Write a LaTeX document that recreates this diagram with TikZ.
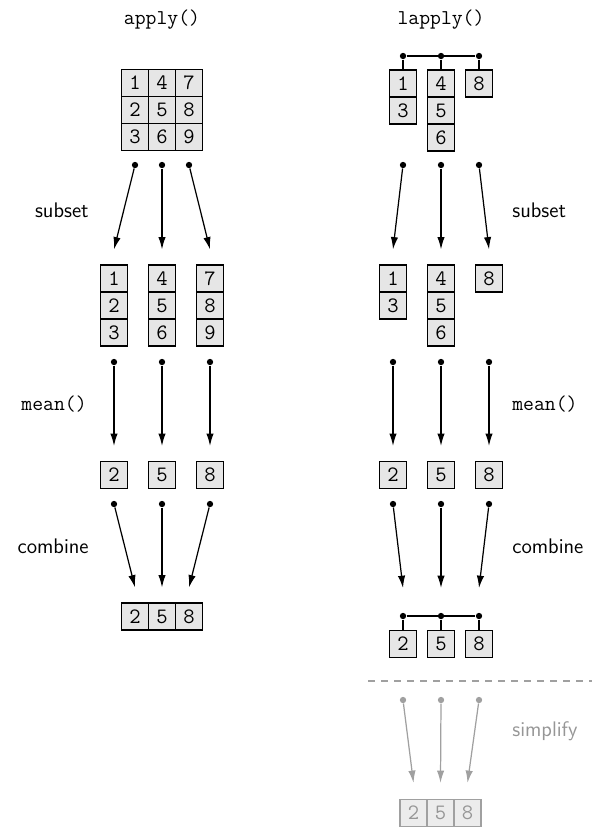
\documentclass[tikz,border=0pt]{standalone}
\usepackage{xcolor}
\definecolor{cellfill}{RGB}{230,230,230}
\definecolor{fadeline}{RGB}{160,160,160}
\definecolor{fadetext}{RGB}{150,150,150}
\definecolor{fadefill}{RGB}{236,236,236}
\usetikzlibrary{arrows.meta}

\begin{document}
\begin{tikzpicture}[x=0.2mm,y=-0.2mm,
cell/.style={draw=black,line width=0.7pt,fill=cellfill,minimum size=5.4mm,inner sep=0pt,font=\fontsize{12.5}{14}\selectfont\ttfamily},
fcell/.style={cell,draw=fadeline,fill=fadefill,text=fadetext},
dot/.style={circle,fill=black,inner sep=0pt,minimum size=3.6pt},
fdot/.style={dot,fill=fadeline},
flow/.style={-{Latex[length=7pt,width=4.2pt]},line width=0.7pt},
fflow/.style={flow,draw=fadeline},
lbar/.style={line width=0.7pt},
cut/.style={draw=fadeline,line width=0.7pt,dash pattern=on 4pt off 3.4pt},
code/.style={font=\fontsize{12}{14}\selectfont\ttfamily,inner sep=0pt},
lbl/.style={font=\fontsize{12}{14}\selectfont\sffamily,inner sep=0pt}]
\useasboundingbox (0,0) rectangle (592,828);
% titles
\node[code] (tapply) at (162,20) {apply()};
\node[code] (tlapply) at (441,20) {lapply()};
% apply(): matrix
\node[cell] (g1) at (135,83) {1}; \node[cell] (g4) at (162,83) {4}; \node[cell] (g7) at (189,83) {7};
\node[cell] (g2) at (135,110) {2}; \node[cell] (g5) at (162,110) {5}; \node[cell] (g8) at (189,110) {8};
\node[cell] (g3) at (135,137) {3}; \node[cell] (g6) at (162,137) {6}; \node[cell] (g9) at (189,137) {9};
% apply(): columns
\node[cell] (c1) at (114,278.5) {1}; \node[cell] (c2) at (114,305.5) {2}; \node[cell] (c3) at (114,332.5) {3};
\node[cell] (c4) at (162,278.5) {4}; \node[cell] (c5) at (162,305.5) {5}; \node[cell] (c6) at (162,332.5) {6};
\node[cell] (c7) at (210,278.5) {7}; \node[cell] (c8) at (210,305.5) {8}; \node[cell] (c9) at (210,332.5) {9};
% apply(): means and result
\node[cell] (mu2) at (114,475) {2}; \node[cell] (mu5) at (162,475) {5}; \node[cell] (mu8) at (210,475) {8};
\node[cell] (r2) at (135,616.5) {2}; \node[cell] (r5) at (162,616.5) {5}; \node[cell] (r8) at (189,616.5) {8};
% apply(): arrows
\node[dot] (ds1) at (135,165) {}; \node[dot] (ds2) at (162,165) {}; \node[dot] (ds3) at (189,165) {};
\draw[flow] (ds1)--([yshift=3mm]c1.north);
\draw[flow] (ds2)--([yshift=3mm]c4.north);
\draw[flow] (ds3)--([yshift=3mm]c7.north);
\node[dot] (dm1) at (114,362) {}; \node[dot] (dm2) at (162,362) {}; \node[dot] (dm3) at (210,362) {};
\draw[flow] (dm1)--([yshift=3mm]mu2.north);
\draw[flow] (dm2)--([yshift=3mm]mu5.north);
\draw[flow] (dm3)--([yshift=3mm]mu8.north);
\node[dot] (dc1) at (114,504) {}; \node[dot] (dc2) at (162,504) {}; \node[dot] (dc3) at (210,504) {};
\draw[flow] (dc1)--([yshift=3mm]r2.north);
\draw[flow] (dc2)--([yshift=3mm]r5.north);
\draw[flow] (dc3)--([yshift=3mm]r8.north);
% lapply(): input list
\node[dot] (lt1) at (403,56) {}; \node[dot] (lt2) at (441,56) {}; \node[dot] (lt3) at (479,56) {};
\node[cell] (a1) at (403,83.5) {1}; \node[cell] (a3) at (403,110.5) {3};
\node[cell] (b4) at (441,83.5) {4}; \node[cell] (b5) at (441,110.5) {5}; \node[cell] (b6) at (441,137.5) {6};
\node[cell] (d8) at (479,83.5) {8};
\draw[lbar] (lt1)--(lt3);
\draw[lbar] (lt1)--(a1.north); \draw[lbar] (lt2)--(b4.north); \draw[lbar] (lt3)--(d8.north);
% lapply(): pieces
\node[cell] (s1) at (393,278.5) {1}; \node[cell] (s3) at (393,305.5) {3};
\node[cell] (s4) at (441,278.5) {4}; \node[cell] (s5) at (441,305.5) {5}; \node[cell] (s6) at (441,332.5) {6};
\node[cell] (s8) at (489,278.5) {8};
\node[cell] (n2) at (393,475) {2}; \node[cell] (n5) at (441,475) {5}; \node[cell] (n8) at (489,475) {8};
% lapply(): output list
\node[dot] (lb1) at (403,616) {}; \node[dot] (lb2) at (441,616) {}; \node[dot] (lb3) at (479,616) {};
\node[cell] (o2) at (403,644) {2}; \node[cell] (o5) at (441,644) {5}; \node[cell] (o8) at (479,644) {8};
\draw[lbar] (lb1)--(lb3);
\draw[lbar] (lb1)--(o2.north); \draw[lbar] (lb2)--(o5.north); \draw[lbar] (lb3)--(o8.north);
% lapply(): arrows
\node[dot] (es1) at (403,165) {}; \node[dot] (es2) at (441,165) {}; \node[dot] (es3) at (479,165) {};
\draw[flow] (es1)--([yshift=3mm]s1.north);
\draw[flow] (es2)--([yshift=3mm]s4.north);
\draw[flow] (es3)--([yshift=3mm]s8.north);
\node[dot] (em1) at (393,362) {}; \node[dot] (em2) at (441,362) {}; \node[dot] (em3) at (489,362) {};
\draw[flow] (em1)--([yshift=3mm]n2.north);
\draw[flow] (em2)--([yshift=3mm]n5.north);
\draw[flow] (em3)--([yshift=3mm]n8.north);
\node[dot] (ec1) at (393,504) {}; \node[dot] (ec2) at (441,504) {}; \node[dot] (ec3) at (489,504) {};
\draw[flow] (ec1)--([yshift=5.6mm]lb1.center);
\draw[flow] (ec2)--([yshift=5.6mm]lb2.center);
\draw[flow] (ec3)--([yshift=5.6mm]lb3.center);
% simplify
\coordinate (cutl) at (368,681); \coordinate (cutr) at (592,681);
\draw[cut] (cutl)--(cutr);
\node[fcell] (f2) at (413.5,813) {2}; \node[fcell] (f5) at (440.5,813) {5}; \node[fcell] (f8) at (467.5,813) {8};
\node[fdot] (ef1) at (403,700) {}; \node[fdot] (ef2) at (441,700) {}; \node[fdot] (ef3) at (479,700) {};
\draw[fflow] (ef1)--([yshift=3.2mm]f2.north);
\draw[fflow] (ef2)--([yshift=3.2mm]f5.north);
\draw[fflow] (ef3)--([yshift=3.2mm]f8.north);
% step labels
\node[lbl,anchor=east] (lsub) at (89,210) {subset};
\node[code,anchor=east] (lmean) at (87,404) {mean()};
\node[lbl,anchor=east] (lcomb) at (89,546) {combine};
\node[lbl,anchor=west] (rsub) at (512,210) {subset};
\node[code,anchor=west] (rmean) at (512,404) {mean()};
\node[lbl,anchor=west] (rcomb) at (512,546) {combine};
\node[lbl,anchor=west,text=fadetext] (rsimp) at (512,731) {simplify};
\end{tikzpicture}
\end{document}
